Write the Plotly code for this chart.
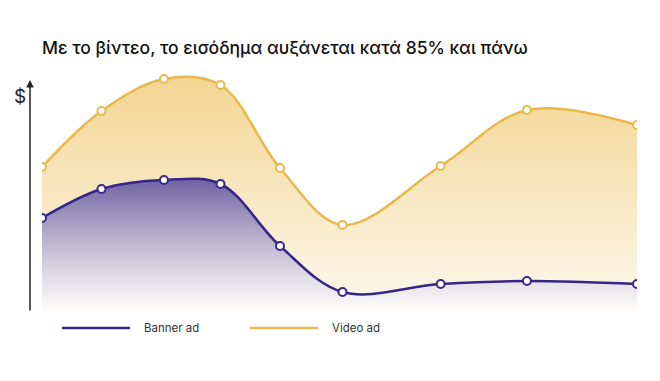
import plotly.graph_objects as go

# Data
x_pos = [0, 10, 20.5, 30, 40, 50.5, 67, 81.5, 100]
video_ad = [58, 80.4, 93.2, 90.8, 57.6, 34.8, 58.4, 80.8, 74.8]
banner_ad = [37.6, 49.2, 52.8, 51.2, 26.4, 8, 11.2, 12.4, 11.2]
series_names = ["Banner ad", "Video ad"]
title_text = "Με το βίντεο, το εισόδημα αυξάνεται κατά 85% και πάνω"

VIDEO = "#e8b94a"
BANNER = "#35268a"

# page has an 8px body margin, so the figure is sized/offset accordingly
W, H = 652, 373
OFF = 8

fig = go.Figure()
fig.add_trace(go.Scatter(
    x=x_pos, y=video_ad, mode="lines+markers", line_shape="spline",
    line=dict(color=VIDEO, width=2.5),
    marker=dict(size=8, color="white", line=dict(color=VIDEO, width=2)),
    fill="tozeroy",
    fillgradient=dict(type="vertical", start=0, stop=95,
                      colorscale=[[0, "rgba(253,248,238,1)"], [1, "rgba(243,213,145,1)"]]),
    name=series_names[1], showlegend=False, hoverinfo="skip"))
fig.add_trace(go.Scatter(
    x=x_pos, y=banner_ad, mode="lines+markers", line_shape="spline",
    line=dict(color=BANNER, width=2.5),
    marker=dict(size=8, color="white", line=dict(color=BANNER, width=2)),
    fill="tozeroy",
    fillgradient=dict(type="vertical", start=0, stop=53,
                      colorscale=[[0, "rgba(255,255,255,0.7)"], [1, "rgba(110,98,164,1)"]]),
    name=series_names[0], showlegend=False, hoverinfo="skip"))

fig.update_layout(
    width=W, height=H,
    margin=dict(l=42 - OFF, r=23, t=62 - OFF, b=69, pad=0),
    paper_bgcolor="white", plot_bgcolor="white",
    xaxis=dict(range=[0, 100], visible=False),
    yaxis=dict(range=[0, 100], visible=False),
    title=dict(text=title_text, x=(42 - OFF) / W, xanchor="left", y=1 - (48 - OFF) / H, yanchor="middle",
               font=dict(family="Inter", size=17.5, color="#111", weight=500)),
    font=dict(family="Inter"),
)

# y-axis arrow
fig.add_annotation(xref="paper", yref="paper", x=-12/595, y=(312-80)/250,
                   ax=0, ay=232, showarrow=True, arrowhead=2, arrowsize=1,
                   arrowwidth=1.5, arrowcolor="#222", text="")
fig.add_annotation(xref="paper", yref="paper", x=-30/595, y=(312-83)/250,
                   text="$", showarrow=False, font=dict(size=19, color="#222", family="Inter"))

# legend (manual)
ly = (312-328)/250
fig.add_shape(type="line", xref="paper", yref="paper", x0=20/595, x1=88/595, y0=ly, y1=ly,
              line=dict(color=BANNER, width=2.5))
fig.add_annotation(xref="paper", yref="paper", x=100/595, y=ly, xanchor="left", yanchor="middle",
                   showarrow=False, text=series_names[0], font=dict(size=11.5, color="#333"))
fig.add_shape(type="line", xref="paper", yref="paper", x0=208/595, x1=276/595, y0=ly, y1=ly,
              line=dict(color=VIDEO, width=2.5))
fig.add_annotation(xref="paper", yref="paper", x=288/595, y=ly, xanchor="left", yanchor="middle",
                   showarrow=False, text=series_names[1], font=dict(size=11.5, color="#333"))

fig.write_html("out.html")
